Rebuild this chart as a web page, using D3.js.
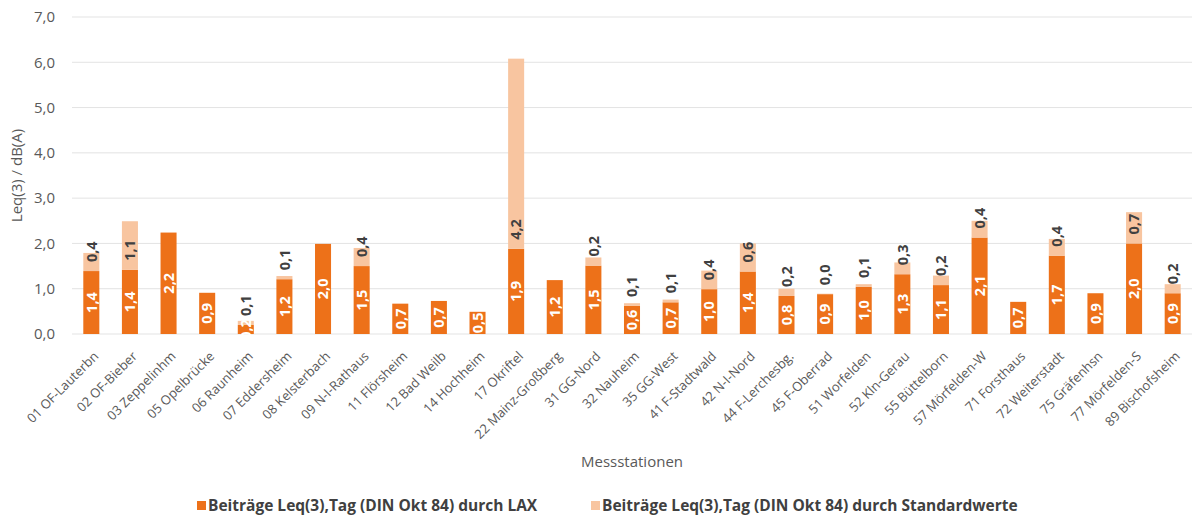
<!DOCTYPE html>
<html><head><meta charset="utf-8">
<script src="https://cdn.jsdelivr.net/npm/d3@7"></script>
<style>
body{margin:0;background:#fff;}
svg{display:block;font-family:"Open Sans",sans-serif;}
</style></head>
<body><svg id="c" width="1192" height="517"></svg>
<script>
const stations = ["01 OF-Lauterbn","02 OF-Bieber","03 Zeppelinhm","05 Opelbrücke","06 Raunheim","07 Eddersheim","08 Kelsterbach","09 N-I-Rathaus","11 Flörsheim","12 Bad Weilb","14 Hochheim","17 Okriftel","22 Mainz-Großberg","31 GG-Nord","32 Nauheim","35 GG-West","41 F-Stadtwald","42 N-I-Nord","44 F-Lerchesbg.","45 F-Oberrad","51 Worfelden","52 Kln-Gerau","55 Büttelborn","57 Mörfelden-W","71 Forsthaus","72 Weiterstadt","75 Gräfenhsn","77 Mörfelden-S","89 Bischofsheim"];
const laxValues = [1.39,1.42,2.24,0.91,0.2,1.21,1.99,1.5,0.67,0.73,0.49,1.88,1.19,1.51,0.62,0.7,0.99,1.38,0.84,0.88,1.04,1.32,1.08,2.13,0.71,1.73,0.9,2.0,0.9];
const stdValues = [0.4,1.07,null,null,0.09,0.07,null,0.4,null,null,null,4.2,null,0.18,0.06,0.06,0.41,0.62,0.16,0.01,0.06,0.26,0.21,0.37,null,0.37,null,0.69,0.2];
const yTicks = [0,1,2,3,4,5,6,7];
const seriesNames = ["Beiträge Leq(3),Tag (DIN Okt 84) durch LAX","Beiträge Leq(3),Tag (DIN Okt 84) durch Standardwerte"];
const yTitle = "Leq(3) / dB(A)";
const xTitle = "Messstationen";

(function(){
const FONT = "'Open Sans', sans-serif";
const colLax = "#ED7119", colStd = "#F8C5A0";
const svg = d3.select("#c");
const pl = 72, pr = 1192, pt = 17, pb = 334;
const x = d3.scaleBand().domain(stations).range([pl, pr]).paddingInner(0.585).paddingOuter(0.2925);
const y = d3.scaleLinear().domain([0, 7]).range([pb, pt]);
const fmt = v => d3.format(".1f")(v).replace(".", ",");

// grid
svg.append("g").selectAll("line").data(yTicks).join("line")
  .attr("x1", pl).attr("x2", pr).attr("y1", d => y(d)).attr("y2", d => y(d))
  .attr("stroke", "#e3e3e3").attr("stroke-width", 1);

// y axis
const yAxis = svg.append("g").attr("transform", `translate(${pl},0)`)
  .call(d3.axisLeft(y).tickValues(yTicks).tickSize(0).tickPadding(17).tickFormat(fmt));
yAxis.attr("font-family", FONT);
yAxis.select(".domain").remove();
yAxis.selectAll("text").attr("font-size", 15).attr("fill", "#595959");

// bars
const data = stations.map((s, i) => ({s, lax: laxValues[i], std: stdValues[i]}));
svg.append("g").selectAll("rect").data(data).join("rect")
  .attr("x", d => x(d.s)).attr("width", x.bandwidth())
  .attr("y", d => y(d.lax)).attr("height", d => y(0) - y(d.lax)).attr("fill", colLax);
svg.append("g").selectAll("rect").data(data.filter(d => d.std !== null)).join("rect")
  .attr("x", d => x(d.s)).attr("width", x.bandwidth())
  .attr("y", d => y(d.lax + d.std)).attr("height", d => y(d.lax) - y(d.lax + d.std)).attr("fill", colStd);

// LAX labels
svg.append("g").selectAll("text").data(data).join("text")
  .attr("transform", d => `translate(${x(d.s) + x.bandwidth()/2},${(y(0)+y(d.lax))/2}) rotate(-90)`)
  .attr("text-anchor", "middle").attr("dy", "0.36em")
  .attr("font-size", 14.5).attr("font-weight", 700).attr("fill", "#fff")
  .text(d => fmt(d.lax));
// Std labels
svg.append("g").selectAll("text").data(data.filter(d => d.std !== null)).join("text")
  .attr("transform", d => `translate(${x(d.s) + x.bandwidth()/2},${y(d.lax) - 9}) rotate(-90)`)
  .attr("text-anchor", "start").attr("dy", "0.36em")
  .attr("font-size", 14.5).attr("font-weight", 700).attr("fill", "#404040")
  .text(d => fmt(d.std));

// x axis
const xAxis = svg.append("g").attr("transform", `translate(0,${pb})`)
  .call(d3.axisBottom(x).tickSize(0).tickPadding(0));
xAxis.attr("font-family", FONT);
xAxis.select(".domain").remove();
xAxis.selectAll("text").attr("font-size", 13).attr("fill", "#595959")
  .attr("text-anchor", "end").attr("dy", null).attr("y", null)
  .attr("transform", "translate(8,23) rotate(-45)");

// titles
svg.append("text").attr("transform", `translate(22,${(pt+pb)/2}) rotate(-90)`)
  .attr("text-anchor", "middle").attr("font-size", 15).attr("fill", "#595959").text(yTitle);
svg.append("text").attr("x", (pl+pr)/2).attr("y", 467)
  .attr("text-anchor", "middle").attr("font-size", 15).attr("fill", "#595959").text(xTitle);

// legend
const lg = [{name: seriesNames[0], c: colLax, x: 197}, {name: seriesNames[1], c: colStd, x: 591}];
const lgG = svg.append("g").selectAll("g").data(lg).join("g").attr("transform", d => `translate(${d.x},506)`);
lgG.append("rect").attr("x", 0).attr("y", -5).attr("width", 9).attr("height", 9).attr("fill", d => d.c);
lgG.append("text").attr("x", 11).attr("y", 0).attr("dy", "0.35em")
  .attr("font-size", 15.5).attr("font-weight", 700).attr("fill", "#404040").text(d => d.name);
})();
</script></body></html>
